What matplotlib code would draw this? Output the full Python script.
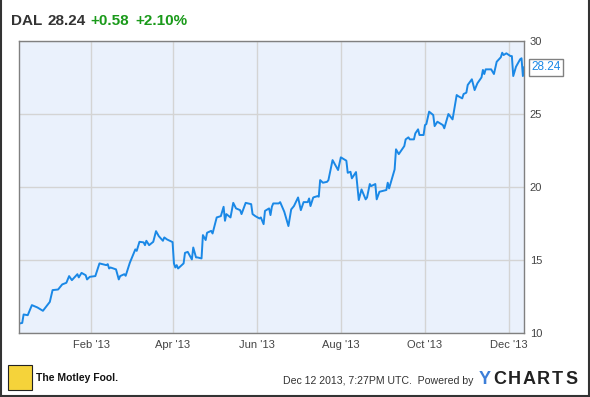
import matplotlib
matplotlib.use("Agg")
import matplotlib.pyplot as plt
import matplotlib.patches as patches
import pandas as pd

plt.rcParams['font.family'] = ['Liberation Sans', 'DejaVu Sans']

# DAL closing prices
dates = [
    "2012-12-11", "2012-12-13", "2012-12-14", "2012-12-17", "2012-12-20", "2012-12-24",
    "2012-12-28", "2013-01-02", "2013-01-04", "2013-01-08", "2013-01-11", "2013-01-14",
    "2013-01-16", "2013-01-18", "2013-01-22", "2013-01-23", "2013-01-25", "2013-01-28",
    "2013-01-29", "2013-01-31", "2013-02-04", "2013-02-07", "2013-02-12", "2013-02-13",
    "2013-02-14", "2013-02-15", "2013-02-19", "2013-02-21", "2013-02-22", "2013-02-25",
    "2013-02-26", "2013-03-01", "2013-03-05", "2013-03-06", "2013-03-08", "2013-03-11",
    "2013-03-12", "2013-03-13", "2013-03-15", "2013-03-18", "2013-03-20", "2013-03-22",
    "2013-03-25", "2013-03-26", "2013-03-28", "2013-04-01", "2013-04-02", "2013-04-03",
    "2013-04-04", "2013-04-05", "2013-04-09", "2013-04-10", "2013-04-12", "2013-04-15",
    "2013-04-16", "2013-04-18", "2013-04-19", "2013-04-22", "2013-04-23", "2013-04-25",
    "2013-04-26", "2013-04-29", "2013-04-30", "2013-05-03", "2013-05-06", "2013-05-08",
    "2013-05-09", "2013-05-10", "2013-05-13", "2013-05-15", "2013-05-17", "2013-05-20",
    "2013-05-21", "2013-05-24", "2013-05-28", "2013-05-29", "2013-05-31", "2013-06-03",
    "2013-06-04", "2013-06-06", "2013-06-07", "2013-06-10", "2013-06-11", "2013-06-12",
    "2013-06-13", "2013-06-17", "2013-06-18", "2013-06-21", "2013-06-24", "2013-06-26",
    "2013-06-28", "2013-07-01", "2013-07-03", "2013-07-05", "2013-07-08", "2013-07-09",
    "2013-07-10", "2013-07-12", "2013-07-15", "2013-07-16", "2013-07-17", "2013-07-19",
    "2013-07-22", "2013-07-23", "2013-07-26", "2013-07-29", "2013-07-30", "2013-08-01",
    "2013-08-05", "2013-08-06", "2013-08-08", "2013-08-09", "2013-08-12", "2013-08-14",
    "2013-08-16", "2013-08-19", "2013-08-20", "2013-08-22", "2013-08-23", "2013-08-26",
    "2013-08-27", "2013-08-29", "2013-09-03", "2013-09-04", "2013-09-05", "2013-09-09",
    "2013-09-10", "2013-09-12", "2013-09-16", "2013-09-17", "2013-09-19", "2013-09-20",
    "2013-09-23", "2013-09-24", "2013-09-26", "2013-09-27", "2013-09-30", "2013-10-01",
    "2013-10-02", "2013-10-04", "2013-10-07", "2013-10-08", "2013-10-10", "2013-10-14",
    "2013-10-15", "2013-10-18", "2013-10-21", "2013-10-24", "2013-10-25", "2013-10-28",
    "2013-10-29", "2013-10-31", "2013-11-01", "2013-11-04", "2013-11-06", "2013-11-08",
    "2013-11-11", "2013-11-12", "2013-11-13", "2013-11-14", "2013-11-18", "2013-11-20",
    "2013-11-22", "2013-11-25", "2013-11-26", "2013-11-27", "2013-11-29", "2013-12-02",
    "2013-12-03", "2013-12-04", "2013-12-06", "2013-12-09", "2013-12-10", "2013-12-11",
    "2013-12-12",
]
prices = [
    10.67, 10.71, 11.29, 11.24, 11.93, 11.77,
    11.54, 12.15, 12.96, 13.00, 13.35, 13.46,
    13.92, 13.64, 14.05, 13.83, 14.14, 13.98,
    13.69, 13.87, 13.92, 14.79, 14.67, 14.74,
    14.44, 14.51, 14.38, 13.69, 13.92, 14.05,
    13.94, 14.83, 15.75, 15.65, 16.27, 16.23,
    16.04, 16.34, 16.04, 16.27, 17.00, 16.66,
    16.34, 16.57, 16.43, 16.25, 14.79, 14.51,
    14.67, 14.44, 14.79, 15.51, 15.58, 15.06,
    15.88, 15.20, 15.20, 15.13, 16.73, 16.39,
    16.89, 17.02, 16.84, 17.94, 18.03, 18.67,
    17.71, 18.17, 17.94, 18.94, 18.56, 18.44,
    18.17, 18.94, 18.85, 18.17, 18.03, 17.87,
    17.94, 17.48, 18.39, 18.56, 18.10, 18.67,
    18.90, 18.90, 18.99, 18.33, 17.35, 18.49,
    18.72, 19.31, 18.44, 18.99, 18.99, 19.24,
    18.72, 19.31, 19.40, 19.36, 20.50, 20.32,
    20.38, 20.50, 21.87, 21.37, 21.19, 22.06,
    21.83, 21.00, 21.07, 20.62, 21.05, 19.13,
    19.86, 19.18, 19.31, 20.23, 20.09, 20.23,
    19.18, 19.70, 19.82, 20.32, 19.93, 21.23,
    22.61, 22.28, 22.83, 23.29, 23.43, 23.29,
    23.29, 23.70, 23.98, 23.59, 23.59, 24.27,
    24.34, 25.19, 24.96, 24.20, 24.50, 24.27,
    24.05, 25.03, 24.66, 26.33, 26.26, 26.10,
    26.40, 26.49, 27.02, 27.41, 26.67, 27.13,
    27.54, 28.05, 27.77, 28.09, 28.09, 27.77,
    28.61, 28.92, 29.23, 29.07, 29.19, 29.00,
    29.00, 27.63, 28.27, 28.78, 28.85, 27.63,
    28.24,
]
last_price = "28.24"
y_ticks = [10, 15, 20, 25, 30]
x_tick_dates = ["2013-02-01", "2013-04-01", "2013-06-01", "2013-08-01", "2013-10-01", "2013-12-01"]
x_tick_labels = ["Feb '13", "Apr '13", "Jun '13", "Aug '13", "Oct '13", "Dec '13"]

dates = pd.to_datetime(dates)

fig = plt.figure(figsize=(5.9, 3.97), dpi=100)
ax = fig.add_axes([0.033, 0.1605, 0.8556, 0.735])
ax.set_facecolor("#eaf1fc")

ax.plot(dates, prices, color="#1a88e6", linewidth=1.4)

ax.set_xlim(pd.Timestamp("2012-12-11"), pd.Timestamp("2013-12-12"))
ax.set_ylim(10, 30)
ax.set_yticks(y_ticks)
ax.set_xticks(pd.to_datetime(x_tick_dates))
ax.set_xticklabels(x_tick_labels)
ax.yaxis.tick_right()
ax.tick_params(axis="both", length=0, labelsize=8, labelcolor="#444444")
ax.tick_params(axis="y", pad=4)
ax.tick_params(axis="x", pad=5)
ax.grid(True, color="#d4d4d4", linewidth=1)
ax.set_axisbelow(True)
for s in ax.spines.values():
    s.set_color("#808080")
    s.set_linewidth(1)

# last value tag
ax.annotate(last_price, xy=(1.0, float(last_price)), xycoords=("axes fraction", "data"),
            xytext=(5, 0), textcoords="offset points", va="center", ha="left",
            fontsize=8.5, color="#1a88e6",
            bbox=dict(boxstyle="square,pad=0.2", fc="white", ec="#808080", lw=1))

# header
fig.text(0.019, 0.948, "DAL", fontsize=11, fontweight="bold", color="#333333", va="center")
fig.text(0.080, 0.948, "28.24", fontsize=11, fontweight="bold", color="#333333", va="center")
fig.text(0.154, 0.948, "+0.58", fontsize=11, fontweight="bold", color="#1a9a1a", va="center")
fig.text(0.230, 0.948, "+2.10%", fontsize=11, fontweight="bold", color="#1a9a1a", va="center")

# footer
fig.patches.append(patches.Rectangle((0.0136, 0.018), 0.041, 0.063, transform=fig.transFigure,
                                     fc="#f5d33a", ec="#222222", lw=0.8))
fig.text(0.061, 0.048, "The Motley Fool.", fontsize=7.5, fontweight="bold", color="#111111", va="center")
fig.text(0.480, 0.040, "Dec 12 2013, 7:27PM UTC.  Powered by", fontsize=7.6, color="#333333", va="center")
brand = "YCHARTS"
for i, ch in enumerate(brand):
    fig.text(0.812 + i * 0.0245, 0.043, ch, fontsize=13, fontweight="bold",
             color="#3d7fd8" if i == 0 else "#222222", va="center")

# outer frame
for xs, ys in [([0.001, 0.001], [0, 1]), ([0.998, 0.998], [0, 1]), ([0, 1], [0.002, 0.002])]:
    fig.add_artist(plt.Line2D(xs, ys, color="#333333", lw=1.5, transform=fig.transFigure))

fig.savefig("out.png", dpi=100)
